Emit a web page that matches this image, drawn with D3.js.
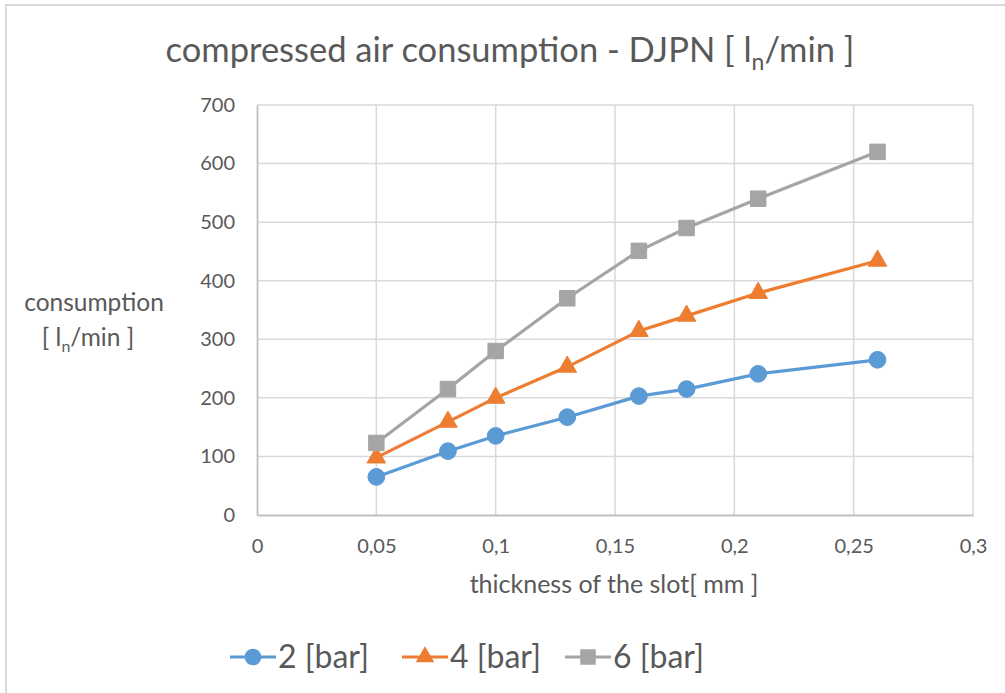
<!DOCTYPE html>
<html>
<head>
  <meta charset="UTF-8">
  <title>compressed air consumption - DJPN</title>
  <style>
    body { margin: 0; background: #fff; }
    svg text { font-family: Lato, "Open Sans", sans-serif; fill: #595959; }
  </style>
</head>
<body>
<svg id="chart"></svg>
<script src="https://cdnjs.cloudflare.com/ajax/libs/d3/7.8.5/d3.min.js"></script>
<script>
// data
const slot = [0.05, 0.08, 0.1, 0.13, 0.16, 0.18, 0.21, 0.26];
const bar2 = [65, 109, 135, 167, 203, 215, 241, 265];
const bar4 = [98, 159, 200, 253, 314, 340, 379, 434];
const bar6 = [123, 215, 280, 370, 451, 490, 540, 620];
const seriesNames = ["2 [bar]", "4 [bar]", "6 [bar]"];
const xTicks = [0, 0.05, 0.1, 0.15, 0.2, 0.25, 0.3];
const yTicks = [0, 100, 200, 300, 400, 500, 600, 700];

const width = 1005, height = 693;
const svg = d3.select("#chart").attr("width", width).attr("height", height);

// outer frame (only left and top show in the picture)
svg.append("rect")
  .attr("x", 6).attr("y", 5)
  .attr("width", 1100).attr("height", 800)
  .attr("fill", "none").attr("stroke", "#d9d9d9").attr("stroke-width", 2);

const x = d3.scaleLinear().domain([0, 0.3]).range([257, 973]);
const y = d3.scaleLinear().domain([0, 700]).range([515, 105]);

const fmt = d => String(d).replace(".", ",");

// grid
svg.append("g").selectAll("line").data(yTicks.slice(1)).join("line")
  .attr("x1", x(0)).attr("x2", x(0.3))
  .attr("y1", d => y(d)).attr("y2", d => y(d))
  .attr("stroke", "#d9d9d9").attr("stroke-width", 1.5);
svg.append("g").selectAll("line").data(xTicks.slice(1)).join("line")
  .attr("x1", d => x(d)).attr("x2", d => x(d))
  .attr("y1", y(0)).attr("y2", y(700))
  .attr("stroke", "#d9d9d9").attr("stroke-width", 1.5);

// axes
const yAxis = svg.append("g").attr("transform", `translate(${x(0)},0)`)
  .call(d3.axisLeft(y).tickValues(yTicks).tickSize(0).tickPadding(22));
const xAxis = svg.append("g").attr("transform", `translate(0,${y(0)})`)
  .call(d3.axisBottom(x).tickValues(xTicks).tickFormat(fmt).tickSize(0).tickPadding(24));
[yAxis, xAxis].forEach(a => {
  a.select(".domain").attr("stroke", "#bfbfbf").attr("stroke-width", 1.8);
  a.selectAll("text").style("font-size", "20px").attr("fill", "#595959");
});

// titles
const title = svg.append("text").attr("x", 510).attr("y", 62)
  .attr("text-anchor", "middle").style("font-size", "34.5px");
title.append("tspan").text("compressed air consumption - DJPN [ l");
title.append("tspan").text("n").attr("dy", 8).style("font-size", "23px");
title.append("tspan").text("/min ]").attr("dy", -8);

svg.append("text").attr("x", 94).attr("y", 311)
  .attr("text-anchor", "middle").style("font-size", "24.5px").text("consumption");
const yl = svg.append("text").attr("x", 88).attr("y", 346)
  .attr("text-anchor", "middle").style("font-size", "24.5px");
yl.append("tspan").text("[ l");
yl.append("tspan").text("n").attr("dy", 6).style("font-size", "16px");
yl.append("tspan").text("/min ]").attr("dy", -6);

svg.append("text").attr("x", 614).attr("y", 593)
  .attr("text-anchor", "middle").style("font-size", "25px").text("thickness of the slot[ mm ]");

// series
const series = [
  { name: seriesNames[0], values: bar2, color: "#5b9bd5", sym: d3.symbolCircle, size: 220 },
  { name: seriesNames[1], values: bar4, color: "#ed7d31", sym: d3.symbolTriangle, size: 150 },
  { name: seriesNames[2], values: bar6, color: "#a5a5a5", sym: d3.symbolSquare, size: 240 }
];

const line = d3.line().x(d => x(d[0])).y(d => y(d[1]));

series.forEach(s => {
  const pts = slot.map((v, i) => [v, s.values[i]]);
  svg.append("path").datum(pts)
    .attr("d", line).attr("fill", "none")
    .attr("stroke", s.color).attr("stroke-width", 3.2).attr("stroke-linejoin", "round");
  svg.append("g").selectAll("path").data(pts).join("path")
    .attr("transform", d => `translate(${x(d[0])},${y(d[1])})`)
    .attr("d", d3.symbol().type(s.sym).size(s.size))
    .attr("fill", s.color)
    .attr("stroke", s.color).attr("stroke-width", 1).attr("stroke-linejoin", "round");
});

// legend
const legendX = [230, 402, 565];
series.forEach((s, i) => {
  const g = svg.append("g").attr("transform", `translate(${legendX[i]},657)`);
  g.append("line").attr("x1", 0).attr("x2", 46)
    .attr("stroke", s.color).attr("stroke-width", 3.2);
  g.append("path").attr("transform", "translate(23,0)")
    .attr("d", d3.symbol().type(s.sym).size(s.size)).attr("fill", s.color);
  g.append("text").attr("x", 48).attr("y", 11)
    .style("font-size", "32px").attr("fill", "#595959").text(s.name);
});
</script>
</body>
</html>
